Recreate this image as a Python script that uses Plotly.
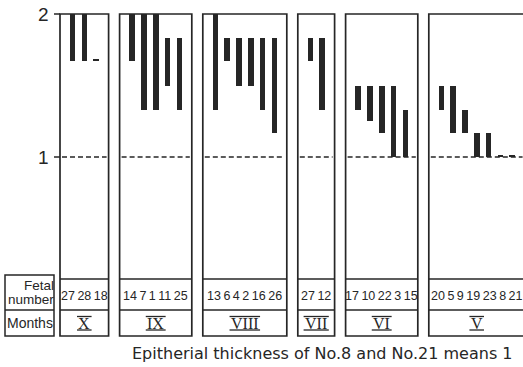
import plotly.graph_objects as go

# ---------------- data ----------------
months = ["X", "IX", "VIII", "VII", "VI", "V"]
fetal_X = [27, 28, 18]
fetal_IX = [14, 7, 1, 11, 25]
fetal_VIII = [13, 6, 4, 2, 16, 26]
fetal_VII = [27, 12]
fetal_VI = [17, 10, 22, 3, 15]
fetal_V = [20, 5, 9, 19, 23, 8, 21]

top_X = [2.0, 2.0, 1.67]
bot_X = [1.67, 1.67, 1.67]
top_IX = [2.0, 2.0, 2.0, 1.83, 1.83]
bot_IX = [1.67, 1.33, 1.33, 1.5, 1.33]
top_VIII = [2.0, 1.83, 1.83, 1.83, 1.83, 1.83]
bot_VIII = [1.33, 1.67, 1.5, 1.5, 1.33, 1.17]
top_VII = [1.83, 1.83]
bot_VII = [1.67, 1.33]
top_VI = [1.5, 1.5, 1.5, 1.5, 1.33]
bot_VI = [1.33, 1.25, 1.17, 1.0, 1.0]
top_V = [1.5, 1.5, 1.33, 1.17, 1.17, 1.0, 1.0]
bot_V = [1.33, 1.17, 1.17, 1.0, 1.0, 1.0, 1.0]

y_ticks = [1, 2]
caption = "Epitherial thickness of No.8 and No.21 means 1"

panels = [
    (months[0], fetal_X, top_X, bot_X),
    (months[1], fetal_IX, top_IX, bot_IX),
    (months[2], fetal_VIII, top_VIII, bot_VIII),
    (months[3], fetal_VII, top_VII, bot_VII),
    (months[4], fetal_VI, top_VI, bot_VI),
    (months[5], fetal_V, top_V, bot_V),
]

# ---------------- layout geometry (pixels) ----------------
W, H = 523, 367
PX_TOP = 14.0      # pixel row of value 2
PX_PER = 143.0     # pixels per unit


def yv(px):
    """pixel row -> data value"""
    return 2 - (px - PX_TOP) / PX_PER


X0 = 60.0
OFFSET = 12.5
SPACING = 11.8
GAP = 11.0
BAR_W = 5.6
INK = "#262626"

ROW_TOP = 279
ROW_MID = 310
ROW_BOT = 336

NUM_FONT = dict(family="Liberation Sans, Arial, sans-serif", size=12.5, color=INK)
ROMAN_SIZE = 16
ROMAN_W = {"X": 0.722, "I": 0.333, "V": 0.722}

fig = go.Figure()
shapes = []
annotations = []

xs_all, base_all, h_all = [], [], []
left = X0
for name, fetal, tops, bots in panels:
    n = len(fetal)
    right = left + 2 * OFFSET + (n - 1) * SPACING
    for i in range(n):
        x = left + OFFSET + i * SPACING
        t, b = tops[i], bots[i]
        if t - b < 0.01:
            # degenerate range drawn as a small dash
            t = b + 0.014
        xs_all.append(x)
        base_all.append(b)
        h_all.append(t - b)
    # frame
    shapes.append(dict(type="rect", x0=left, x1=right, y0=yv(ROW_BOT), y1=2,
                       line=dict(color=INK, width=1.7), layer="below"))
    shapes.append(dict(type="line", x0=left, x1=right, y0=yv(ROW_TOP), y1=yv(ROW_TOP),
                       line=dict(color=INK, width=1.5)))
    shapes.append(dict(type="line", x0=left, x1=right, y0=yv(ROW_MID), y1=yv(ROW_MID),
                       line=dict(color=INK, width=1.5)))
    # dashed reference at 1
    shapes.append(dict(type="line", x0=left + 2, x1=right - 2, y0=1, y1=1,
                       line=dict(color=INK, width=1.5, dash="5px,3px")))
    cx = (left + right) / 2
    annotations.append(dict(x=cx, y=yv((ROW_TOP + ROW_MID) / 2 + 1),
                            text="\u2009".join(str(v) for v in fetal),
                            showarrow=False, xanchor="center", yanchor="middle",
                            font=NUM_FONT))
    # roman numeral with top and bottom bars
    annotations.append(dict(x=cx, y=yv(323.5), text=name,
                            showarrow=False, xanchor="center", yanchor="middle",
                            font=dict(family="Liberation Serif, serif", size=ROMAN_SIZE, color=INK)))
    bw = sum(ROMAN_W[c] for c in name) * ROMAN_SIZE + 3
    for py in (316.5, 330):
        shapes.append(dict(type="line", x0=cx - bw / 2, x1=cx + bw / 2, y0=yv(py), y1=yv(py),
                           line=dict(color=INK, width=1.3)))
    left = right + GAP

fig.add_trace(go.Bar(x=xs_all, y=h_all, base=base_all, width=BAR_W,
                     marker=dict(color=INK, line=dict(width=0)),
                     hoverinfo="skip", showlegend=False))

# y tick marks and labels
for v in y_ticks:
    shapes.append(dict(type="line", x0=54, x1=X0, y0=v, y1=v,
                       line=dict(color=INK, width=1.5)))
    annotations.append(dict(x=51, y=v, text=str(v), showarrow=False,
                            xanchor="right", yanchor="middle",
                            font=dict(family="Liberation Sans, sans-serif",
                                      size=19, color=INK)))

# row label box
shapes.append(dict(type="rect", x0=5, x1=54, y0=yv(ROW_BOT), y1=yv(275),
                   line=dict(color=INK, width=1.5)))
shapes.append(dict(type="line", x0=5, x1=54, y0=yv(ROW_MID), y1=yv(ROW_MID),
                   line=dict(color=INK, width=1.5)))
lab_font = dict(family="Liberation Sans, sans-serif", size=13.5, color=INK)
annotations.append(dict(x=55.5, y=yv(285), text="Fetal", showarrow=False,
                        xanchor="right", yanchor="middle", font=lab_font))
annotations.append(dict(x=55.5, y=yv(299), text="number", showarrow=False,
                        xanchor="right", yanchor="middle", font=lab_font))
annotations.append(dict(x=29.5, y=yv(323), text="Months", showarrow=False,
                        xanchor="center", yanchor="middle",
                        font=dict(family="Liberation Sans, sans-serif", size=14, color=INK)))

# caption
annotations.append(dict(x=322, y=yv(353), text=caption, showarrow=False,
                        xanchor="center", yanchor="middle",
                        font=dict(family="DejaVu Sans, sans-serif", size=16, color=INK)))

fig.update_layout(
    width=W, height=H,
    margin=dict(l=0, r=0, t=0, b=0),
    paper_bgcolor="white", plot_bgcolor="white",
    xaxis=dict(range=[0, W], visible=False, fixedrange=True),
    yaxis=dict(range=[yv(H), yv(0)], visible=False, fixedrange=True),
    shapes=shapes, annotations=annotations,
    bargap=0,
)

fig.write_html("out.html", config={"displayModeBar": False},
               post_script="document.body.style.margin='0';")
